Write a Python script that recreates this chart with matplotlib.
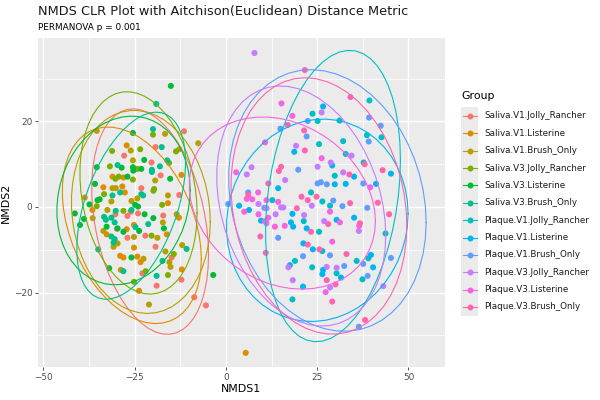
import numpy as np
import matplotlib
matplotlib.use("Agg")
import matplotlib.pyplot as plt
from matplotlib.patches import Rectangle
from matplotlib.lines import Line2D

plt.rcParams["font.family"] = ["DejaVu Sans"]

# ---------------- data ----------------
groups = [
    "Saliva.V1.Jolly_Rancher", "Saliva.V1.Listerine", "Saliva.V1.Brush_Only",
    "Saliva.V3.Jolly_Rancher", "Saliva.V3.Listerine", "Saliva.V3.Brush_Only",
    "Plaque.V1.Jolly_Rancher", "Plaque.V1.Listerine", "Plaque.V1.Brush_Only",
    "Plaque.V3.Jolly_Rancher", "Plaque.V3.Listerine", "Plaque.V3.Brush_Only",
]
colors = ["#F8766D", "#DE8C00", "#B79F00", "#7CAE00", "#00BA38", "#00C08B",
          "#00BFC4", "#00B4F0", "#619CFF", "#C77CFF", "#F564E3", "#FF64B0"]

s_v1_jr = [(-11.5, 17.7), (-19.3, 14), (-27.9, 12), (-20.4, 10.4), (-17.9, 7.4), (-23.2, 4.4),
           (-12.8, 2.8), (-30.3, -1.7), (-29.9, -5.1), (-27, -2.1), (-26.1, -1.1), (-24.1, -1.5),
           (-17.2, -2), (-27, -7.2), (-22.1, -6.7), (-19.3, -9.3), (-14.9, -11.8), (-22.9, -15.5),
           (-12.2, -17), (-19, -18.4), (-8.7, -21.1), (-5.5, -23)]
s_v1_lis = [(-27.2, 14.4), (-31.1, 7.1), (-28.1, 6.9), (-12.2, 7.5), (-33.6, 4.6), (-28.4, 4.8),
            (-38.7, 2.2), (-27.7, 3.4), (-36.6, -0.7), (-15.9, 0.9), (-12.9, -2.5), (-27.2, -5.2),
            (-25.2, -4.2), (-32.7, -6.4), (-16.2, -6.4), (-25.2, -9.5), (-29, -11.4), (-28.1, -11.8),
            (-24.3, -11.6), (-23.4, -12.9), (-28.8, -14.7), (-12.1, -14.6), (-23.8, -19.6), (5.4, -34.1)]
s_v1_bo = [(-7.6, 14.9), (-35.4, 17.8), (-16.7, 17.1), (-26.1, 13.2), (-12.8, 13.5), (-25.5, 10.9),
           (-19.4, 6.2), (-31.1, 4.4), (-30.2, 4.4), (-31.4, 1.3), (-25.9, 1.4), (-24.3, 2),
           (-15.9, 2.7), (-32.5, -0.7), (-36.5, -2.6), (-17.3, -3.6), (-13.5, -1.7), (-33.6, -5.6),
           (-29.7, -8.5), (-30.8, -9.3), (-25.2, -7), (-18.8, -7.2), (-12, -8.9), (-16.6, -10.4),
           (-22.6, -12.1), (-15.5, -12.9), (-15.2, -14), (-21.1, -22.8)]
s_v3_jr = [(-20, 16.9), (-31.2, 13.1), (-23.5, 13.5), (-13.7, 13), (-30.3, 6.6), (-29.4, 7.1),
           (-25.5, 6.4), (-19.7, 4.2), (-19.9, 3.8), (-28.1, -0.9), (-17.5, 0.5), (-22, -15),
           (-15.9, -15.9), (-24.3, 8.9), (-31.8, 9.5), (-15.6, 10.3), (-33.4, 3), (-35.4, 0.2),
           (-20.4, -6.7), (-14.3, -11), (-25.2, -17.5)]
s_v3_lis = [(-15.1, 28.3), (-25.5, 17.3), (-22.4, 11), (-35.4, 9.3), (-28.6, 9.2), (-25.5, 9.3),
            (-25.4, 8.5), (-23.2, 8.9), (-27, 7.1), (-15.3, 6.6), (-35.9, 5.4), (-37.4, 0.6),
            (-35.2, 1.6), (-34.6, 1.8), (-24.9, 0.5), (-24.1, 0.1), (-41.4, -1.5), (-38.9, -2.8),
            (-22.3, -1.7), (-19.9, -2.6), (-40, -4.2), (-32.7, -4.6), (-29.7, -5), (-28.1, -5.8),
            (-23.8, -5.6), (-17, -5), (-25.9, -11.8), (-32, -14.3), (-3.5, -15.9)]
s_v3_bo = [(-19.1, 24.1), (-20, 18.2), (-17.6, 14), (-16.1, 10.9), (-29.7, 9.8), (-20.3, 8.7),
           (-20.3, 8.2), (-18.1, 9.5), (-31.1, 2.7), (-29, 3.4), (-23.2, 3), (-22.7, 2.7),
           (-30.2, -0.9), (-25.9, -0.7), (-33.4, -2.3), (-32.9, -3), (-31.4, -2.5), (-30.5, -3.6),
           (-24.8, -4.7), (-21.3, -4), (-31.4, -6.9), (-30.5, -7.5), (-30.8, -8.3), (-35, -9.9),
           (-10.8, -9.8), (-17.4, -12.6), (-28.1, -15), (-19, -16.1)]
p_v1_jr = [(39.3, 24.9), (23.7, 21.8), (25.1, 20.1), (31.1, 20.2), (38.6, 16.8), (42.6, 16.3),
           (32.1, 15.4), (25.5, 14.7), (32.8, 12.4), (37.7, 10.4), (29.8, 7.3), (23.3, 3.4),
           (12.7, 1.6), (26.4, 1.3), (28.5, 0.3), (21.3, -3.3), (25.5, -5.8), (43.7, -6.2),
           (26.4, -10.3), (18.9, -12.6), (23.6, -14.1), (35.8, -12.6), (39, -12), (30.3, -15.5),
           (37.4, -16.9), (18.2, -21.6)]
p_v1_lis = [(26.6, 23.5), (18.7, 12.9), (29.1, 9.7), (35.1, 7.1), (29.8, 5.3), (32.8, 5.4),
            (41.1, 5.4), (14.3, 4.4), (45.2, 7.8), (3.6, 0.3), (6.3, -0.7), (18.2, -1.6),
            (35.1, -2.5), (9.6, -3.2), (17.8, -3.6), (30.3, -3.0), (18.4, -4.6), (22.1, -5.0),
            (21.2, -8.5), (23.8, -9.9), (17.5, -13.6), (26.6, -14.7), (39.7, -11.2), (40.3, -14.1),
            (26.4, -15.7), (31.5, -16.5), (21.1, -18.6)]
p_v1_bo = [(22.4, 20.1), (39.2, 20.9), (42.4, 19), (14.9, 18.3), (22.1, 16.5), (39.1, 15.3),
           (19.8, 8.7), (26, 5.8), (25.1, 5.5), (27.6, 5.3), (37.6, 5.5), (6.1, 3.4),
           (29.4, 1.5), (0.6, 0.7), (10.5, -0.2), (31.9, 0.2), (38.7, -0.2), (14.3, -7.2),
           (28.5, -11.3), (21.1, -11.5), (32.4, -13.8), (37.6, -13.3), (45.2, -11.9), (38.8, -16.1),
           (36.4, -28)]
p_v3_jr = [(7.8, 36), (26.2, 22.1), (19.2, 14.3), (34.4, 12), (28.7, 10.4), (7.0, 9.3),
           (25.1, 9.4), (5.7, 7.6), (32.1, 8.1), (16.2, 6.3), (8.9, 0.7), (11.1, -0.3),
           (15.1, -0.1), (15.7, -0.1), (23.5, 0.3), (13.6, -1.7), (21.4, -1.9), (11.1, -3.8),
           (26.9, -3.3), (36.4, -5.6), (17.1, -14.1), (27.6, -14), (30.3, -14.2), (18.3, -17.1),
           (28.5, -18.8), (43.1, -18.5)]
p_v3_lis = [(15.2, 24.2), (18.2, 21.3), (10.7, 15.1), (26.2, 11.4), (2.8, 8.1), (39.5, 4.6),
            (8.8, 3.4), (5.7, 1.9), (7.2, 1.8), (11.1, 1.6), (14.3, 1.2), (5.0, -1.1),
            (8.9, -1.7), (28.5, -1.1), (10.7, -3.3), (11.6, -2.5), (31.2, -3.6), (36.5, -4.4),
            (13.4, -4.6), (16.1, -4.4), (29.1, -8.1), (27.3, -19.9)]
p_v3_bo = [(21.6, 32.0), (34.1, 25.7), (16.9, 19.2), (21.4, 17.9), (21.6, 13.2), (38.0, 10),
           (15.1, 9.4), (14.5, 8.4), (33.8, 7.6), (42.9, 8.6), (11.6, 5.5), (6.1, 2.8),
           (20.7, 2.4), (24.8, 2.4), (22.4, 1.6), (34, 0.9), (41.6, 1.0), (19.4, -0.3),
           (44.7, -1.7), (28, -4), (36.7, -3.8), (23.3, -5.8), (9.4, -6.9), (22.4, -8.8),
           (10.9, -10.7), (25.6, -9.9), (33, -11), (27.6, -17.1), (30, -18.1), (29.1, -22.1),
           (38.1, -26.4)]

points = [s_v1_jr, s_v1_lis, s_v1_bo, s_v3_jr, s_v3_lis, s_v3_bo,
          p_v1_jr, p_v1_lis, p_v1_bo, p_v3_jr, p_v3_lis, p_v3_bo]

x_ticks = [-50, -25, 0, 25, 50]
y_ticks = [-20, 0, 20]


# ---------------- stat_ellipse (type = "t", level = 0.95) ----------------
def cov_trob(x, nu=5, maxit=25, tol=0.01):
    n, p = x.shape
    loc = x.mean(axis=0)
    w = np.ones(n)
    for _ in range(maxit):
        w0 = w
        X = x - loc
        _, d, vt = np.linalg.svd(np.sqrt(w / w.sum())[:, None] * X, full_matrices=False)
        wX = X @ vt.T @ np.diag(1.0 / d)
        Q = (wX ** 2).sum(axis=1)
        w = (nu + p) / (nu + Q)
        loc = (w[:, None] * x).sum(axis=0) / w.sum()
        if np.all(np.abs(w - w0) < tol):
            break
    cov = (np.sqrt(w)[:, None] * X).T @ (np.sqrt(w)[:, None] * X) / n
    return loc, cov


def ellipse_path(pts, level=0.95, segments=51):
    x = np.asarray(pts, dtype=float)
    center, shape = cov_trob(x)
    dfd = len(x) - 1
    # qf(level, 2, dfd) in closed form
    qf = dfd / 2.0 * ((1 - level) ** (-2.0 / dfd) - 1)
    radius = np.sqrt(2 * qf)
    ang = np.linspace(0, 2 * np.pi, segments + 1)
    circ = np.column_stack([np.cos(ang), np.sin(ang)])
    chol = np.linalg.cholesky(shape).T
    return center + radius * circ @ chol


# ---------------- figure ----------------
fig = plt.figure(figsize=(6, 4), dpi=100)
ax = fig.add_axes([38 / 600, 1 - 367 / 400, 407 / 600, 329 / 400])
ax.set_facecolor("#EBEBEB")
for s in ax.spines.values():
    s.set_visible(False)

ax.set_xlim(-51.5, 60)
ax.set_ylim(-37.4, 39.5)
ax.set_xticks(x_ticks)
ax.set_yticks(y_ticks)
ax.set_xticks([-37.5, -12.5, 12.5, 37.5], minor=True)
ax.set_yticks([-30, -10, 10, 30], minor=True)
ax.grid(which="major", color="white", lw=1.0)
ax.grid(which="minor", color="white", lw=0.5)
ax.set_axisbelow(True)
ax.tick_params(which="major", length=2.5, width=0.6, color="#333333",
               labelsize=6.4, labelcolor="#4D4D4D", pad=1.5)
ax.tick_params(which="minor", length=0)

for pts, col in zip(points, colors):
    arr = np.asarray(pts)
    ax.scatter(arr[:, 0], arr[:, 1], s=19, color=col, edgecolors="none", zorder=2)

for pts, col in zip(points, colors):
    e = ellipse_path(pts)
    ax.plot(e[:, 0], e[:, 1], color=col, lw=0.8, zorder=3)

ax.set_xlabel("NMDS1", fontsize=7.9, labelpad=2)
ax.set_ylabel("NMDS2", fontsize=7.9, labelpad=2)

fig.text(38 / 600, 1 - 12 / 400, "NMDS CLR Plot with Aitchison(Euclidean) Distance Metric",
         fontsize=9.3, va="center", ha="left", color="#1A1A1A")
fig.text(38 / 600, 1 - 27.5 / 400, "PERMANOVA p = 0.001",
         fontsize=6.4, va="center", ha="left", color="black")

# ---------------- legend ----------------
lax = fig.add_axes([0, 0, 1, 1])
lax.set_xlim(0, 600)
lax.set_ylim(400, 0)
lax.axis("off")
lax.text(461, 96, "Group", fontsize=7.9, va="center", ha="left")
step = 17.36
lax.add_patch(Rectangle((461, 116 - step / 2), 17, step * 12, facecolor="#EBEBEB",
                        edgecolor="none"))
for i, (g, col) in enumerate(zip(groups, colors)):
    yy = 116 + i * step
    lax.add_line(Line2D([462.5, 476.5], [yy, yy], color=col, lw=0.8))
    lax.plot([469.5], [yy], "o", color=col, ms=4.3, mec="none")
    lax.text(484, yy, g, fontsize=6.3, va="center", ha="left", color="#1A1A1A")

fig.savefig("out.png", dpi=100)
